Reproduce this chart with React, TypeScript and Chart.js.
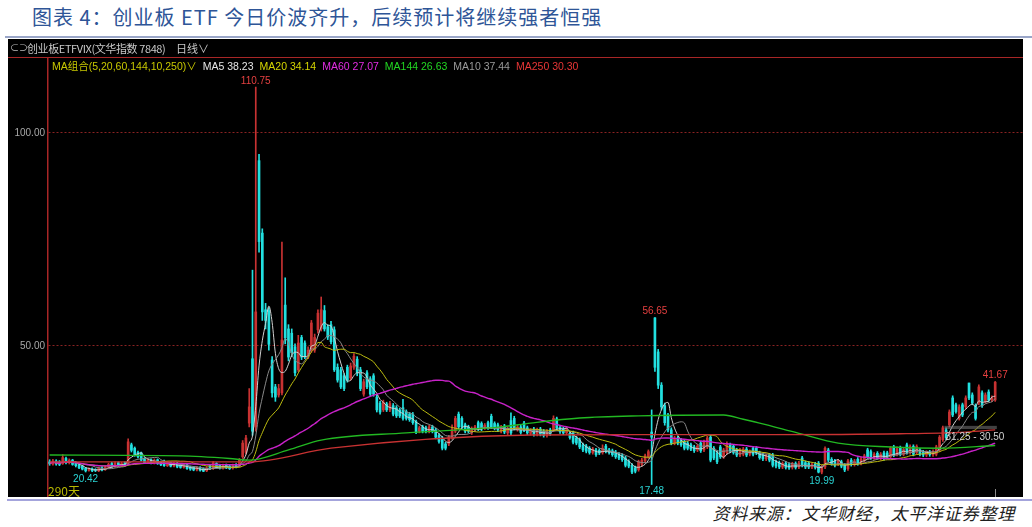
import React, { useEffect, useRef } from 'react';
import { Chart, registerables } from 'chart.js';

Chart.register(...registerables);

// ---- candle data (one entry per trading day, 290 days) ----
const opens = [
  22.8, 22.3, 23.0, 22.8, 22.4, 23.6, 22.6, 23.2, 22.6, 22.2,
  21.8, 21.3, 20.8, 21.2, 21.0, 20.7, 21.4, 21.0, 21.5, 22.4,
  21.7, 22.6, 21.9, 22.6, 22.3, 26.8, 26.0, 25.0, 24.9, 23.5,
  22.6, 23.3, 22.5, 23.3, 22.8, 23.0, 21.9, 22.6, 21.8, 22.5,
  22.1, 21.5, 22.1, 21.6, 21.5, 20.9, 21.5, 21.2, 20.7, 21.9,
  21.2, 22.4, 22.0, 21.3, 22.1, 21.8, 21.3, 22.2, 21.8, 24.0,
  25.0, 31.9, 47.0, 31.0, 93.5, 76.5, 58.5, 58.3, 46.7, 40.4,
  38.5, 39.0, 59.6, 54.0, 53.0, 49.8, 44.4, 52.0, 50.7, 47.4,
  49.0, 49.0, 53.8, 54.0, 58.3, 54.5, 55.0, 53.8, 45.0, 44.4,
  43.0, 45.0, 42.5, 45.0, 46.9, 44.4, 38.7, 43.7, 42.3, 43.0,
  38.0, 36.6, 35.0, 36.4, 35.0, 36.0, 35.5, 35.0, 35.5, 34.6,
  34.0, 34.0, 32.2, 30.0, 31.0, 30.8, 30.0, 31.0, 30.3, 29.0,
  28.4, 27.0, 27.0, 28.5, 30.0, 34.0, 33.0, 31.5, 31.0, 29.6,
  30.3, 32.0, 31.8, 30.8, 32.0, 33.5, 31.8, 31.5, 30.0, 31.2,
  29.6, 32.5, 33.0, 30.4, 31.0, 31.9, 30.8, 29.5, 30.5, 29.3,
  30.5, 30.0, 29.0, 30.3, 30.3, 32.9, 30.9, 30.5, 29.6, 29.5,
  29.6, 28.4, 28.0, 26.8, 26.5, 26.0, 25.0, 25.6, 25.5, 25.0,
  26.5, 25.6, 25.4, 25.1, 24.6, 24.3, 23.7, 22.9, 22.0, 21.4,
  21.0, 22.2, 23.0, 24.0, 29.8, 56.6, 48.6, 40.8, 36.0, 33.8,
  30.3, 27.2, 28.4, 27.9, 27.6, 27.2, 26.8, 26.3, 25.6, 27.2,
  25.6, 26.3, 28.6, 26.0, 24.9, 26.3, 24.0, 25.0, 26.8, 26.5,
  25.6, 24.4, 24.6, 25.8, 24.6, 26.0, 26.0, 24.9, 24.5, 23.5,
  24.4, 24.4, 22.8, 22.6, 21.6, 22.5, 22.2, 21.5, 22.4, 21.6,
  23.7, 22.6, 22.5, 21.6, 22.3, 22.5, 20.4, 21.6, 25.6, 23.4,
  23.0, 22.3, 22.8, 22.0, 21.2, 23.2, 22.2, 23.4, 22.5, 23.2,
  25.6, 25.2, 23.8, 24.8, 23.6, 24.9, 24.9, 24.0, 26.3, 24.6,
  26.1, 24.6, 26.8, 25.0, 26.4, 25.0, 25.6, 25.1, 24.4, 25.1,
  24.5, 24.6, 25.6, 28.0, 30.3, 31.5, 37.8, 36.2, 33.0, 36.2,
  35.7, 41.3, 38.5, 36.0, 36.6, 39.0, 37.0, 39.2, 37.3, 37.3,
];

const closes = [
  22.4, 23.0, 22.3, 22.2, 23.8, 22.6, 23.2, 22.2, 21.9, 21.4,
  21.1, 20.7, 21.2, 20.7, 20.8, 21.3, 20.9, 21.6, 22.2, 21.7,
  22.5, 21.9, 22.4, 22.1, 27.5, 25.5, 24.4, 24.0, 23.2, 22.6,
  23.3, 22.5, 23.2, 22.4, 22.1, 21.9, 22.6, 21.8, 22.4, 21.6,
  21.5, 22.0, 21.2, 21.1, 20.9, 21.4, 20.8, 20.6, 21.4, 21.2,
  22.6, 21.5, 21.3, 22.0, 21.4, 21.2, 22.0, 21.6, 23.2, 27.2,
  28.4, 35.7, 30.0, 58.0, 74.5, 58.0, 56.0, 50.4, 39.0, 38.0,
  40.0, 51.4, 51.9, 47.4, 48.4, 43.7, 50.7, 47.4, 47.4, 49.0,
  55.4, 52.0, 57.7, 58.5, 54.0, 52.1, 51.0, 44.4, 42.0, 40.4,
  40.0, 42.0, 45.3, 47.6, 43.7, 40.0, 41.6, 40.4, 38.7, 38.7,
  35.0, 34.5, 36.8, 35.0, 36.5, 34.0, 33.6, 33.6, 33.0, 33.0,
  32.7, 32.0, 29.8, 30.8, 30.0, 30.0, 31.0, 30.0, 28.6, 27.6,
  26.0, 26.0, 28.6, 30.5, 33.0, 31.0, 31.0, 30.0, 30.0, 30.6,
  31.0, 30.5, 30.5, 31.4, 30.8, 31.0, 30.7, 30.3, 31.0, 29.8,
  30.6, 29.6, 30.7, 31.0, 29.7, 30.3, 29.6, 30.2, 29.2, 30.3,
  29.3, 29.0, 30.0, 29.4, 33.0, 30.7, 29.9, 29.6, 30.4, 28.5,
  27.4, 27.2, 26.3, 25.6, 25.3, 25.0, 25.8, 24.5, 24.9, 26.0,
  25.3, 25.0, 24.5, 24.0, 23.7, 23.3, 22.0, 21.8, 20.4, 20.6,
  22.8, 23.2, 24.2, 25.2, 28.6, 45.0, 40.8, 35.7, 32.0, 30.3,
  27.2, 28.4, 27.2, 26.8, 26.0, 26.0, 25.8, 25.4, 26.5, 25.4,
  27.5, 28.4, 23.2, 23.7, 22.8, 24.0, 25.6, 27.0, 25.4, 25.0,
  24.4, 25.6, 25.8, 24.4, 25.2, 24.6, 24.9, 23.8, 23.5, 24.2,
  23.2, 22.0, 21.8, 21.6, 22.4, 21.5, 21.4, 22.3, 21.5, 22.5,
  22.0, 21.6, 21.6, 22.2, 21.5, 20.4, 21.6, 26.0, 23.2, 22.4,
  22.0, 23.0, 21.8, 20.9, 23.0, 22.2, 23.0, 22.4, 23.5, 24.2,
  24.0, 23.8, 24.6, 23.8, 24.6, 23.6, 23.9, 26.0, 24.4, 25.9,
  24.6, 25.7, 25.0, 26.4, 24.6, 26.4, 24.6, 24.4, 25.0, 24.5,
  25.2, 26.3, 28.6, 30.8, 28.5, 34.5, 33.8, 34.6, 35.7, 33.8,
  37.8, 37.8, 36.6, 33.0, 40.4, 36.0, 38.5, 37.3, 37.8, 41.5,
];

const highs = [
  23.3, 23.4, 23.3, 23.1, 24.5, 23.9, 23.5, 23.4, 22.9, 22.4,
  22.0, 21.5, 21.4, 21.4, 21.2, 21.6, 21.7, 21.9, 22.5, 22.7,
  22.8, 22.8, 22.7, 22.8, 28.2, 27.2, 26.3, 25.3, 25.1, 23.8,
  23.6, 23.5, 23.5, 23.5, 23.0, 23.2, 22.9, 22.8, 22.7, 22.7,
  22.3, 22.3, 22.3, 21.8, 21.7, 21.7, 21.7, 21.4, 21.7, 22.1,
  22.9, 22.6, 22.2, 22.3, 22.3, 22.0, 22.3, 22.4, 23.6, 27.8,
  29.0, 40.0, 67.8, 110.75, 95.0, 77.5, 60.0, 59.0, 47.5, 41.0,
  41.0, 74.4, 66.0, 55.0, 54.0, 50.5, 52.5, 52.5, 51.2, 49.8,
  56.0, 52.8, 58.5, 61.5, 59.5, 55.0, 55.8, 54.5, 45.8, 45.0,
  43.5, 45.5, 46.0, 48.2, 47.5, 45.0, 42.2, 44.2, 42.8, 43.5,
  38.5, 37.0, 37.3, 36.8, 37.0, 36.5, 36.0, 35.4, 37.5, 35.0,
  34.4, 34.4, 32.6, 31.2, 31.4, 31.2, 31.4, 31.4, 30.7, 29.4,
  28.8, 27.4, 29.0, 31.5, 33.5, 34.5, 33.4, 31.9, 31.4, 31.0,
  31.4, 32.4, 32.2, 31.8, 32.4, 34.0, 32.2, 31.9, 31.4, 31.6,
  31.0, 34.3, 33.5, 31.4, 31.4, 32.3, 31.2, 30.6, 30.9, 30.7,
  30.9, 30.4, 30.4, 30.7, 33.6, 33.3, 31.3, 30.9, 30.8, 29.9,
  30.0, 28.8, 28.4, 27.2, 26.9, 26.4, 26.2, 26.0, 25.9, 26.8,
  26.9, 26.0, 25.8, 25.5, 25.0, 24.7, 24.1, 23.3, 22.4, 21.8,
  23.2, 23.6, 24.6, 25.6, 35.0, 56.65, 49.2, 41.4, 36.6, 34.2,
  30.8, 28.8, 28.8, 28.3, 28.0, 27.6, 27.2, 26.7, 26.9, 27.6,
  27.9, 28.8, 29.0, 26.4, 25.3, 26.7, 26.0, 27.5, 27.2, 26.9,
  26.0, 26.0, 26.2, 26.2, 25.6, 26.4, 26.4, 25.3, 24.9, 24.6,
  24.8, 24.8, 23.2, 23.0, 22.8, 22.9, 22.6, 22.7, 22.8, 22.9,
  24.1, 23.0, 22.9, 22.6, 22.7, 22.9, 22.0, 26.3, 26.0, 23.8,
  23.4, 23.4, 23.2, 22.4, 23.4, 23.6, 23.4, 23.8, 23.9, 24.6,
  26.0, 25.6, 25.0, 25.2, 25.0, 25.3, 25.3, 26.4, 26.7, 26.3,
  26.5, 26.1, 27.2, 26.8, 26.8, 26.8, 26.0, 25.5, 25.4, 25.5,
  25.6, 26.7, 29.0, 31.2, 30.8, 35.0, 38.3, 36.6, 36.2, 36.6,
  38.3, 41.3, 39.0, 36.4, 40.9, 39.5, 39.0, 39.7, 38.3, 41.67,
];

const lows = [
  22.0, 22.0, 22.0, 21.9, 22.2, 22.3, 22.3, 22.0, 21.6, 21.2,
  20.9, 20.42, 20.6, 20.5, 20.5, 20.5, 20.7, 20.8, 21.3, 21.5,
  21.5, 21.7, 21.7, 21.8, 22.1, 25.1, 24.1, 23.7, 23.0, 22.4,
  22.4, 22.3, 22.3, 22.2, 21.9, 21.7, 21.7, 21.6, 21.6, 21.4,
  21.3, 21.3, 21.0, 20.8, 20.7, 20.7, 20.6, 20.5, 20.5, 21.0,
  21.0, 21.3, 21.1, 21.1, 21.2, 21.0, 21.1, 21.4, 21.6, 23.6,
  24.6, 31.0, 29.0, 30.0, 72.0, 56.0, 54.0, 49.0, 38.0, 37.0,
  38.0, 38.5, 50.5, 46.5, 47.5, 43.0, 44.0, 46.8, 47.0, 47.0,
  48.5, 48.5, 53.0, 53.5, 53.5, 51.5, 50.5, 44.0, 41.5, 40.0,
  39.5, 41.5, 42.0, 44.5, 43.0, 39.5, 38.2, 40.0, 38.2, 38.2,
  34.5, 34.0, 34.6, 34.6, 34.6, 33.6, 33.2, 33.2, 32.6, 32.6,
  32.3, 31.6, 29.4, 29.6, 29.6, 29.6, 29.6, 29.6, 28.2, 27.2,
  25.6, 25.6, 26.6, 28.1, 29.6, 30.6, 30.6, 29.6, 29.6, 29.2,
  29.9, 30.1, 30.1, 30.4, 30.4, 30.6, 30.3, 29.9, 29.6, 29.4,
  29.2, 29.2, 30.3, 30.0, 29.3, 29.9, 29.2, 29.1, 28.8, 28.9,
  28.9, 28.6, 28.6, 29.0, 29.9, 30.3, 29.5, 29.2, 29.2, 28.1,
  27.0, 26.8, 25.9, 25.2, 24.9, 24.6, 24.6, 24.1, 24.5, 24.6,
  24.9, 24.6, 24.1, 23.6, 23.3, 22.9, 21.6, 21.4, 20.0, 20.2,
  20.6, 21.8, 22.6, 23.6, 17.48, 44.0, 40.0, 35.0, 31.4, 29.8,
  26.8, 26.8, 26.8, 26.4, 25.6, 25.6, 25.4, 25.0, 25.2, 25.0,
  25.2, 25.9, 22.8, 23.3, 22.4, 23.6, 23.6, 24.6, 25.0, 24.6,
  24.0, 24.0, 24.2, 24.0, 24.2, 24.2, 24.5, 23.4, 23.1, 23.1,
  22.8, 21.6, 21.4, 21.2, 21.2, 21.1, 21.0, 21.1, 21.1, 21.2,
  21.6, 21.2, 21.2, 21.2, 21.1, 20.2, 19.99, 21.2, 22.8, 22.0,
  21.6, 21.9, 21.4, 20.5, 20.8, 21.8, 21.8, 22.0, 22.1, 22.8,
  23.6, 23.4, 23.4, 23.4, 23.2, 23.2, 23.5, 23.6, 24.0, 24.2,
  24.2, 24.2, 24.6, 24.6, 24.2, 24.6, 24.2, 24.0, 24.0, 24.1,
  24.1, 24.2, 25.2, 27.6, 28.0, 31.0, 33.4, 34.2, 32.6, 33.4,
  35.3, 37.4, 36.2, 32.6, 36.2, 35.6, 36.6, 36.9, 36.9, 37.0,
];

// ---- long moving averages (day index -> value) ----
const ma144Days = [0, 40, 55, 61, 73, 83, 109, 138, 147, 162, 180, 206, 212, 217, 229, 241, 257, 272, 289];
const ma144Values = [24.4, 24.2, 23.6, 23.2, 25.6, 27.9, 29.6, 31.0, 31.9, 33.1, 33.6, 33.8, 32.8, 31.9, 29.5, 27.2, 26.3, 26.0, 26.63];
const ma250Days = [0, 61, 86, 147, 180, 220, 260, 280, 289];
const ma250Values = [22.8, 22.8, 26.0, 29.1, 29.2, 29.2, 29.4, 29.8, 30.3];

// ---- legend row ----
const maGroupLabel = 'MA组合(5,20,60,144,10,250)∨';
const maLegendNames = ['MA5', 'MA20', 'MA60', 'MA144', 'MA10', 'MA250'];
const maLegendValues = ['38.23', '34.14', '27.07', '26.63', '37.44', '30.30'];
const maLegendColors = ['#e6e6e6', '#d6d600', '#e22ce2', '#22d622', '#9a9a9a', '#e83636'];

// ---- axis / annotations ----
const yTicks = [50, 100];
const markDays = [63, 185, 289, 11, 184, 236];
const markValues = [110.75, 56.65, 41.67, 20.42, 17.48, 19.99];
const markIsHigh = [true, true, true, false, false, false];
const bandRange = [30.5, 31.25];
const bandDays = [274, 289];
const PAD_DAYS = 8;

const UP = '#c83232';
const DOWN = '#22e0e0';

function movingAverage(n: number): number[] {
  return closes.map((_, i) => {
    const s = Math.max(0, i - n + 1);
    let sum = 0;
    for (let k = s; k <= i; k++) sum += closes[k];
    return sum / (i - s + 1);
  });
}

function sparse(days: number[], vals: number[]): (number | null)[] {
  const arr: (number | null)[] = new Array(closes.length).fill(null);
  days.forEach((d, k) => {
    arr[d] = vals[k];
  });
  return arr;
}

const overlayPlugin = {
  id: 'overlay',
  afterDatasetsDraw(chart: any) {
    const { ctx, scales, chartArea } = chart;
    const xs = scales.x;
    const ys = scales.y;
    const half = (xs.getPixelForValue(1) - xs.getPixelForValue(0)) / 2;
    ctx.save();
    // price band
    const bx0 = xs.getPixelForValue(bandDays[0]) - half;
    const bx1 = xs.getPixelForValue(bandDays[1]) + half;
    const by0 = ys.getPixelForValue(bandRange[1]);
    const by1 = ys.getPixelForValue(bandRange[0]);
    ctx.fillStyle = 'rgba(120,120,120,0.55)';
    ctx.fillRect(bx0, by0, bx1 - bx0, by1 - by0);
    ctx.font = '10px "Liberation Sans", Arial, sans-serif';
    ctx.fillStyle = '#d2d2d2';
    ctx.textAlign = 'left';
    ctx.textBaseline = 'middle';
    ctx.fillText(`${bandRange[1].toFixed(2)} - ${bandRange[0].toFixed(2)}`, bx0 + 1, by1 + 8);
    // high / low marks
    ctx.textAlign = 'center';
    markDays.forEach((d, k) => {
      const x = xs.getPixelForValue(d);
      const y = ys.getPixelForValue(markValues[k]);
      if (markIsHigh[k]) {
        ctx.fillStyle = '#e64040';
        ctx.textBaseline = 'bottom';
        ctx.fillText(markValues[k].toFixed(2), x, y - 1);
      } else {
        ctx.fillStyle = '#2ad4d4';
        ctx.textBaseline = 'top';
        ctx.fillText(markValues[k].toFixed(2), x, y + 2);
      }
    });
    // cursor tick at the last day
    const lx = Math.round(xs.getPixelForValue(closes.length - 1)) + 0.5;
    ctx.strokeStyle = '#8a8a8a';
    ctx.lineWidth = 1;
    ctx.beginPath();
    ctx.moveTo(lx, chartArea.bottom - 8);
    ctx.lineTo(lx, chartArea.bottom);
    ctx.stroke();
    ctx.restore();
  },
};

export default function App() {
  const ref = useRef<HTMLCanvasElement>(null);

  useEffect(() => {
    if (!ref.current) return;
    const labels = [...closes.map((_, i) => String(i + 1)), ...new Array(PAD_DAYS).fill('')];
    const isUp = closes.map((c, i) => c >= opens[i]);
    const colors = isUp.map((u) => (u ? UP : DOWN));
    const bodies = closes.map((c, i) => [opens[i], c]);
    const wicks = closes.map((_, i) => [lows[i], highs[i]]);

    const lineDs = (label: string, data: (number | null)[], color: string, width: number) => ({
      type: 'line' as const,
      label,
      data,
      borderColor: color,
      borderWidth: width,
      pointRadius: 0,
      fill: false,
      spanGaps: true,
      cubicInterpolationMode: 'monotone' as const,
      order: 0,
    });

    const chart = new Chart(ref.current, {
      type: 'bar',
      data: {
        labels,
        datasets: [
          lineDs('MA250', sparse(ma250Days, ma250Values), '#c83232', 1.3),
          lineDs('MA144', sparse(ma144Days, ma144Values), '#22b822', 1.4),
          lineDs('MA60', movingAverage(60), '#c822c8', 1.4),
          lineDs('MA20', movingAverage(20), '#bcbc10', 1),
          lineDs('MA10', movingAverage(10), '#888888', 1),
          lineDs('MA5', movingAverage(5), '#d0d0d0', 1),
          {
            type: 'bar' as const,
            label: 'body',
            data: bodies as any,
            backgroundColor: colors,
            barThickness: 2,
            minBarLength: 1,
            grouped: false,
            order: 1,
          },
          {
            type: 'bar' as const,
            label: 'wick',
            data: wicks as any,
            backgroundColor: colors,
            barThickness: 1,
            grouped: false,
            order: 2,
          },
        ],
      },
      options: {
        animation: false,
        responsive: true,
        maintainAspectRatio: false,
        events: [],
        layout: { padding: { top: 19, right: 0, bottom: 0, left: 0 } },
        plugins: { legend: { display: false }, tooltip: { enabled: false } },
        scales: {
          x: { display: false, offset: true, grid: { display: false } },
          y: {
            min: 14.55,
            max: 117.6,
            afterBuildTicks: (s: any) => {
              s.ticks = yTicks.map((v) => ({ value: v }));
            },
            afterFit: (s: any) => {
              s.width = 40;
              s.paddingTop = 0;
              s.paddingBottom = 0;
            },
            ticks: {
              color: '#a8a8a8',
              padding: 3,
              font: { size: 10, family: '"Liberation Sans", Arial, sans-serif' },
              callback: (v: any) => Number(v).toFixed(2),
            },
            grid: { color: '#8a2222', lineWidth: 1, drawTicks: false },
            border: { color: '#a82626', width: 1.5, dash: [2, 2] },
          },
        },
      },
      plugins: [overlayPlugin],
    });
    return () => chart.destroy();
  }, []);

  const legendFont = '"Liberation Sans", Arial, "Noto Sans CJK SC", sans-serif';

  return (
    <div
      style={{
        position: 'absolute',
        left: 0,
        top: 0,
        width: 1032,
        height: 527,
        background: '#ffffff',
        overflow: 'hidden',
        fontFamily: '"Noto Sans CJK SC", sans-serif',
      }}
    >
      <div
        style={{
          position: 'absolute',
          left: 32,
          top: 3,
          fontSize: 20,
          lineHeight: '28px',
          color: '#2e5597',
          letterSpacing: 1,
          whiteSpace: 'nowrap',
        }}
      >
        图表 4：创业板 ETF 今日价波齐升，后续预计将继续强者恒强
      </div>
      <div style={{ position: 'absolute', left: 5, top: 36, width: 1027, height: 2, background: '#9aa6c8' }} />

      <div style={{ position: 'absolute', left: 8, top: 39, width: 1015, height: 458, background: '#000000' }}>
        <div style={{ position: 'absolute', left: 0, top: 0, width: 1015, height: 458 }}>
          <canvas ref={ref} />
        </div>
        <div style={{ position: 'absolute', left: 0, top: 18, width: 1015, height: 1, background: '#a82626' }} />
        <div
          style={{
            position: 'absolute',
            left: 2,
            top: 2,
            fontSize: 9,
            lineHeight: '14px',
            color: '#bdbdbd',
            whiteSpace: 'nowrap',
          }}
        >
          ⊂⊃
        </div>
        <div
          style={{
            position: 'absolute',
            left: 19,
            top: 2,
            fontSize: 11,
            lineHeight: '14px',
            color: '#c8c8c8',
            letterSpacing: -0.4,
            whiteSpace: 'nowrap',
          }}
        >
          创业板ETFVIX(文华指数 7848)
        </div>
        <div
          style={{
            position: 'absolute',
            left: 168,
            top: 2,
            fontSize: 11,
            lineHeight: '14px',
            color: '#c8c8c8',
            whiteSpace: 'nowrap',
          }}
        >
          日线∨
        </div>
        <div
          style={{
            position: 'absolute',
            left: 44,
            top: 20,
            display: 'flex',
            gap: 6,
            fontSize: 10.5,
            lineHeight: '14px',
            whiteSpace: 'nowrap',
            fontFamily: legendFont,
          }}
        >
          <span style={{ color: '#c8c800' }}>{maGroupLabel}</span>
          {maLegendNames.map((n, k) => (
            <span key={n} style={{ color: maLegendColors[k] }}>
              {n} {maLegendValues[k]}
            </span>
          ))}
        </div>
        <div
          style={{
            position: 'absolute',
            left: 40,
            top: 445,
            fontSize: 12,
            lineHeight: '14px',
            color: '#b8b800',
            whiteSpace: 'nowrap',
          }}
        >
          {closes.length}天
        </div>
      </div>

      <div style={{ position: 'absolute', left: 7, top: 499, width: 1025, height: 2, background: '#a4a4dc' }} />
      <div
        style={{
          position: 'absolute',
          right: 17,
          top: 501,
          fontSize: 17,
          lineHeight: '24px',
          color: '#1e1e1e',
          fontStyle: 'italic',
          letterSpacing: 0.8,
          whiteSpace: 'nowrap',
        }}
      >
        资料来源：文华财经，太平洋证券整理
      </div>
    </div>
  );
}
